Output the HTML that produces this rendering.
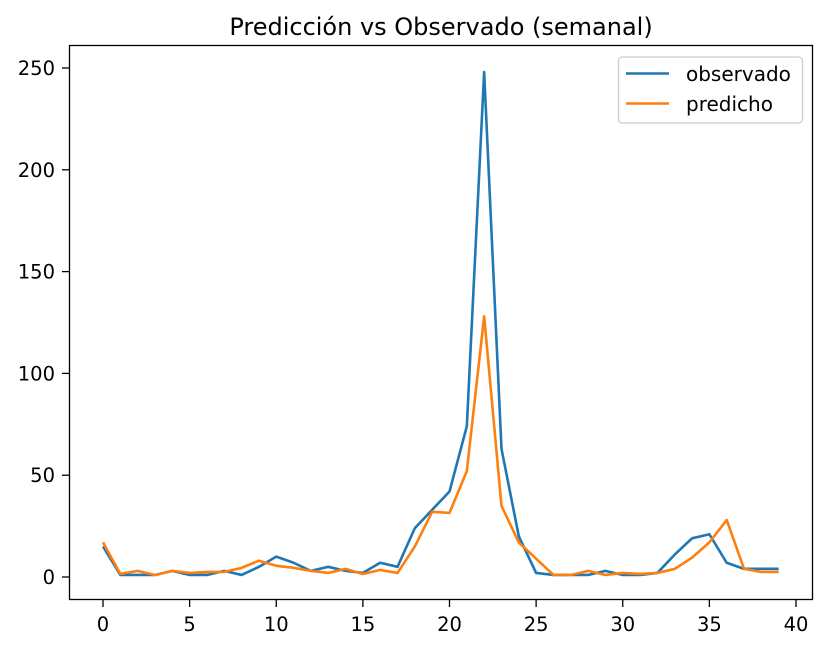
<!DOCTYPE html>
<html><head><meta charset="utf-8"><style>
body{margin:0;background:#fff}
svg{display:block;font-family:"DejaVu Sans","Liberation Sans",sans-serif}
</style></head><body>
<svg id="chart" width="828" height="650">
<text x="441" y="35" text-anchor="middle" font-size="24">Predicción vs Observado (semanal)</text>
<g id="ticks"></g>
<g id="lines"></g>
<rect x="69.5" y="45.5" width="743" height="554" fill="none" stroke="#000" stroke-width="1.3"/>
<g>
<rect x="618.5" y="57" width="184" height="66" rx="4" fill="#fff" stroke="#ccc" stroke-width="1.3"/>
<line x1="626" y1="73.5" x2="669" y2="73.5" stroke="#1f77b4" stroke-width="2.6"/>
<text x="686" y="81" font-size="20">observado</text>
<line x1="626" y1="103.5" x2="669" y2="103.5" stroke="#ff7f0e" stroke-width="2.6"/>
<text x="686" y="111" font-size="20">predicho</text>
</g>
</svg>
<script>
const weeks=[...Array(40).keys()];
const observado=[15,1,1,1,3,1,1,3,1,5,10,7,3,5,3,2,7,5,24,33,42,74,248,63,20,2,1,1,1,3,1,1,2,11,19,21,7,4,4,4];
const predicho=[17,1.5,3,1,3,2,2.5,2.5,4.5,8,5.5,4.5,3,2,4,1.5,3.5,2,15,32,31.5,52,128,35,17,9,1,1,3,1,2,1.5,2,4,9.5,17,28,4,2.5,2.5];
const xTicks=[0,5,10,15,20,25,30,35,40];
const yTicks=[0,50,100,150,200,250];
const X=v=>103+v*17.325;
const Y=v=>577-v*2.036;
const NS="http://www.w3.org/2000/svg";
const tg=document.getElementById('ticks');
function mk(tag,attrs,parent){const e=document.createElementNS(NS,tag);for(const k in attrs)e.setAttribute(k,attrs[k]);parent.appendChild(e);return e;}
xTicks.forEach(t=>{
 const l=mk('line',{x1:X(t),x2:X(t),y1:599,y2:607,stroke:'#000','stroke-width':1.3},tg);
 
 
 const tx=mk('text',{x:X(t),y:631,'text-anchor':'middle','font-size':19.5},tg);
 tx.textContent=t;
 
 
});
yTicks.forEach(t=>{
 const l=mk('line',{x1:62,x2:69,y1:Y(t),y2:Y(t),stroke:'#000','stroke-width':1.3},tg);
 
 
 const tx=mk('text',{x:55,y:Y(t)+7,'text-anchor':'end','font-size':19.5},tg);
 tx.textContent=t;
 
 
});
const lg=document.getElementById('lines');
[[observado,'#1f77b4','observado-line'],[predicho,'#ff7f0e','predicho-line']].forEach(([d,c,n])=>{
 const p=mk('polyline',{points:d.map((v,i)=>X(weeks[i])+','+Y(v)).join(' '),fill:'none',stroke:c,'stroke-width':2.6,'stroke-linejoin':'round'},lg);
 
 
});
</script>
</body></html>
